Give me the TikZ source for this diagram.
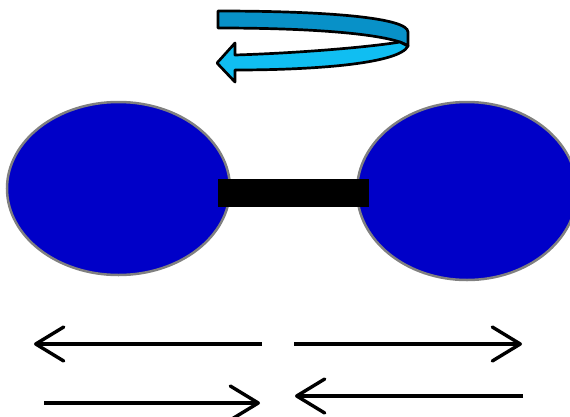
\documentclass[tikz,border=0pt]{standalone}
\usetikzlibrary{shapes.geometric,arrows.meta}
\definecolor{ballblue}{RGB}{0,0,200}
\definecolor{ballrim}{RGB}{128,128,128}
\definecolor{banddark}{RGB}{8,145,200}
\definecolor{bandlight}{RGB}{16,190,242}
\tikzset{
  ball/.style={ellipse, draw=ballrim, line width=2.5pt, fill=ballblue, inner sep=0pt},
  rod/.style={rectangle, fill=black, inner sep=0pt, minimum width=151pt, minimum height=28pt},
  band/.style={draw=black, line width=2.7pt, line join=round},
  motion/.style={line width=3.4pt, -{Straight Barb[length=28pt,width=34pt,round]}}
}
\begin{document}
\begin{tikzpicture}[x=1pt,y=-1pt]
\path[use as bounding box] (0,0) rectangle (570,416);
% balls
\node[ball, minimum width=223pt, minimum height=173pt] (L) at (118.5,188.5) {};
\node[ball, minimum width=220pt, minimum height=178pt] (R) at (467,191) {};
\node[rod] (rod) at (293.5,193) {};
% curled rotation arrow
\draw[band, fill=banddark] (218,11) .. controls (330,11) and (408,18) .. (408,32) -- (408,46) .. controls (395,36) and (330,28) .. (218,28) -- cycle;
\draw[band, fill=bandlight] (408,46) .. controls (400,63) and (320,70) .. (235,70) -- (235,82) -- (217,63) -- (235,43) -- (235,55) .. controls (300,53) and (370,47) .. (400,42) -- cycle;
% bottom arrows
\coordinate (a1s) at (262,344);
\coordinate (a1e) at (34,344);
\coordinate (a2s) at (294,344);
\coordinate (a2e) at (522,344);
\coordinate (a3s) at (44,403);
\coordinate (a3e) at (260,403);
\coordinate (a4s) at (523,396);
\coordinate (a4e) at (295,396);
\draw[motion] (a1s) -- (a1e);
\draw[motion] (a2s) -- (a2e);
\draw[motion] (a3s) -- (a3e);
\draw[motion] (a4s) -- (a4e);
\end{tikzpicture}
\end{document}
